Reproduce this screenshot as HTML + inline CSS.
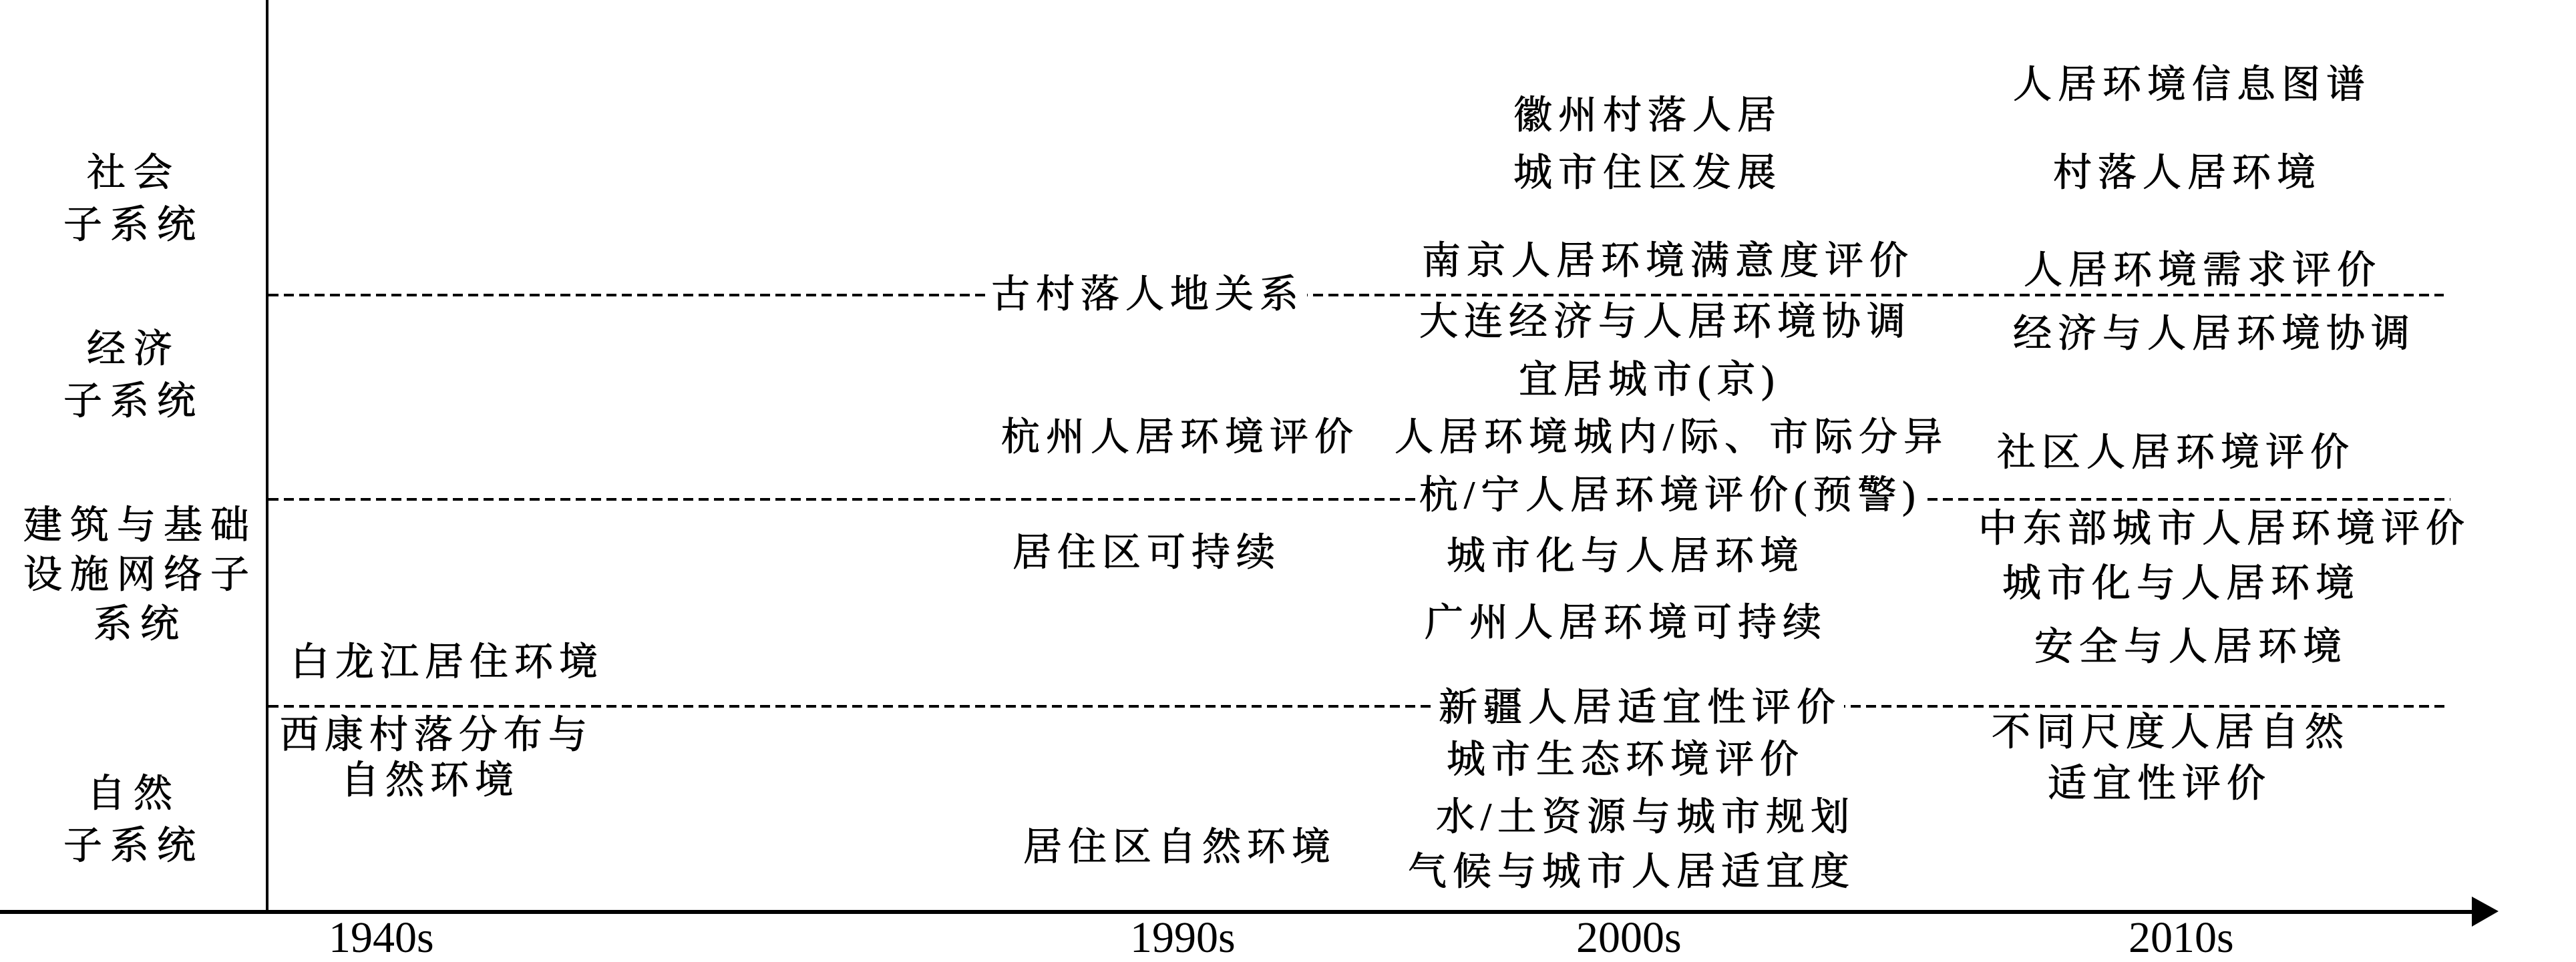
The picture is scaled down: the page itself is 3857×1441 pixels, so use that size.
<!DOCTYPE html>
<html><head><meta charset="utf-8"><style>
html,body{margin:0;padding:0;background:#fff;}
body{width:3857px;height:1427px;position:relative;overflow:hidden;}
.t{position:absolute;font-family:"Liberation Serif","Noto Serif CJK SC",serif;font-size:58px;line-height:58px;letter-spacing:9px;color:#000;white-space:nowrap;-webkit-text-stroke:1px #000;}
.w{background:#fff;padding:0 4px;margin-left:-4px;}
.y{position:absolute;font-family:"Liberation Serif",serif;font-size:66px;line-height:66px;color:#000;}
.l{position:absolute;font-family:"Liberation Serif","Noto Serif CJK SC",serif;font-size:58px;line-height:78px;letter-spacing:12px;text-align:center;width:400px;color:#000;-webkit-text-stroke:1px #000;}
</style></head><body>
<svg width="3857" height="1427" style="position:absolute;left:0;top:0">
<line x1="400" y1="0" x2="400" y2="1366" stroke="#000" stroke-width="4"/>
<line x1="0" y1="1366" x2="3705" y2="1366" stroke="#000" stroke-width="6"/>
<polygon points="3701,1343 3741,1365 3701,1388" fill="#000"/>
<g stroke="#000" stroke-width="4" stroke-dasharray="15 8">
<line x1="402" y1="442" x2="3659" y2="442"/>
<line x1="402" y1="748" x2="3669" y2="748"/>
<line x1="402" y1="1058" x2="3665" y2="1058"/>
</g>
</svg>
<div class="l" style="left:0;top:220px">社会<br>子系统</div>
<div class="l" style="left:0;top:484px">经济<br>子系统</div>
<div class="l" style="left:10px;top:750px;line-height:74px">建筑与基础<br>设施网络子<br>系统</div>
<div class="l" style="left:0;top:1150px">自然<br>子系统</div>

<div class="y" style="left:492px;top:1372px">1940s</div>
<div class="y" style="left:1692px;top:1372px">1990s</div>
<div class="y" style="left:2360px;top:1372px">2000s</div>
<div class="y" style="left:3187px;top:1372px">2010s</div>

<div class="t" style="left:435px;top:963px">白龙江居住环境</div>
<div class="t w" style="left:419px;top:1072px">西康村落分布与</div>
<div class="t" style="left:510px;top:1140px">自然环境</div>

<div class="t w" style="left:1484px;top:412px">古村落人地关系</div>
<div class="t" style="left:1499px;top:626px">杭州人居环境评价</div>
<div class="t" style="left:1516px;top:799px">居住区可持续</div>
<div class="t" style="left:1532px;top:1240px">居住区自然环境</div>

<div class="t" style="left:2266px;top:144px">徽州村落人居</div>
<div class="t" style="left:2266px;top:230px">城市住区发展</div>
<div class="t" style="left:2129px;top:362px">南京人居环境满意度评价</div>
<div class="t" style="left:2125px;top:453px">大连经济与人居环境协调</div>
<div class="t" style="left:2274px;top:540px">宜居城市(京)</div>
<div class="t" style="left:2088px;top:626px">人居环境城内/际、市际分异</div>
<div class="t w" style="left:2125px;top:713px">杭/宁人居环境评价(预警)</div>
<div class="t" style="left:2166px;top:804px">城市化与人居环境</div>
<div class="t" style="left:2133px;top:904px">广州人居环境可持续</div>
<div class="t w" style="left:2154px;top:1031px">新疆人居适宜性评价</div>
<div class="t" style="left:2166px;top:1109px">城市生态环境评价</div>
<div class="t" style="left:2150px;top:1195px">水/土资源与城市规划</div>
<div class="t" style="left:2108px;top:1277px">气候与城市人居适宜度</div>

<div class="t" style="left:3014px;top:98px">人居环境信息图谱</div>
<div class="t" style="left:3074px;top:230px">村落人居环境</div>
<div class="t" style="left:3030px;top:376px">人居环境需求评价</div>
<div class="t" style="left:3014px;top:471px">经济与人居环境协调</div>
<div class="t" style="left:2990px;top:649px">社区人居环境评价</div>
<div class="t" style="left:2962px;top:763px">中东部城市人居环境评价</div>
<div class="t" style="left:2998px;top:845px">城市化与人居环境</div>
<div class="t" style="left:3046px;top:940px">安全与人居环境</div>
<div class="t" style="left:2982px;top:1068px">不同尺度人居自然</div>
<div class="t" style="left:3066px;top:1145px">适宜性评价</div>
</body></html>
